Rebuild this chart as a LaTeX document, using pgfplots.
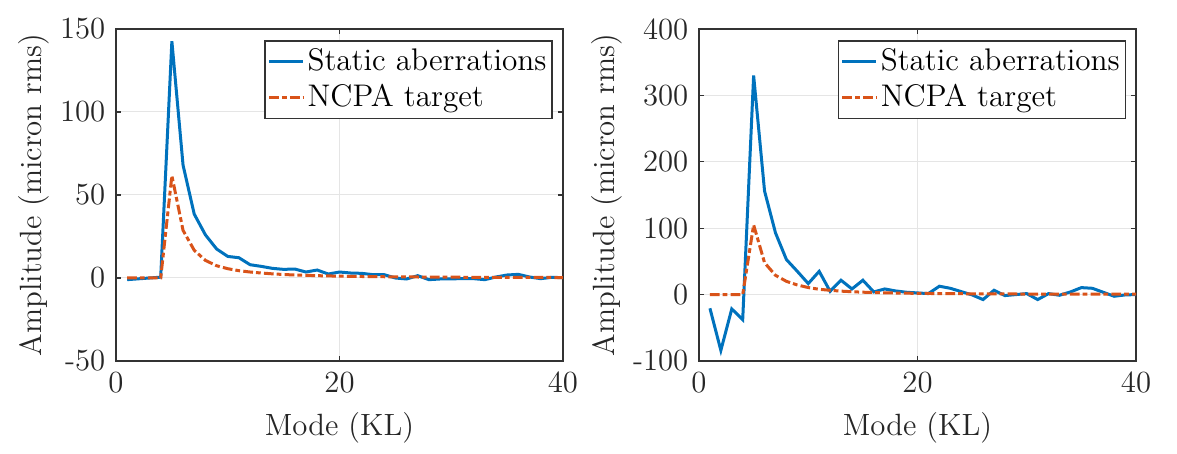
\documentclass[border=0pt]{standalone}
\usepackage{pgfplots}
\pgfplotsset{compat=1.18}
\definecolor{mblue}{rgb}{0,0.447,0.741}
\definecolor{morange}{rgb}{0.85,0.325,0.098}
\pgfplotstableread{
x s n
1 -1 0
2 -0.5 0
3 0 0
4 0.5 0
5 142.6 61.6
6 68 28.7
7 38.5 16.7
8 26 10.6
9 17.5 7.4
10 13 5.6
11 12.2 4.4
12 8 3.6
13 7 3.0
14 5.8 2.5
15 5.2 2.1
16 5.4 1.8
17 3.6 1.6
18 4.8 1.4
19 2.4 1.25
20 3.6 1.1
21 3 1.0
22 2.8 0.9
23 2 0.8
24 2 0.75
25 0 0.7
26 -0.6 0.65
27 1.4 0.6
28 -1 0.55
29 -0.6 0.5
30 -0.5 0.48
31 -0.4 0.45
32 -0.4 0.43
33 -1 0.4
34 0.6 0.38
35 1.8 0.36
36 2.2 0.34
37 0.6 0.32
38 -0.4 0.31
39 0.4 0.3
40 0.2 0.29
}\leftdata
\pgfplotstableread{
x s n
1 -20.6 0
2 -84 0
3 -21.6 0
4 -37.7 0
5 330 105
6 156 48
7 93 29
8 52.8 20
9 35 14.5
10 16.6 10.6
11 35 8
12 5 6.5
13 21.6 5.2
14 8.5 4.3
15 21.6 3.6
16 4 3.1
17 8.5 2.7
18 5.5 2.4
19 3.5 2.1
20 2.5 1.9
21 1.5 1.7
22 12.6 1.5
23 9.5 1.4
24 4.5 1.3
25 -0.5 1.2
26 -7.5 1.1
27 6.5 1.0
28 -1.5 0.95
29 0 0.9
30 1.5 0.85
31 -7.5 0.8
32 1.5 0.75
33 -1 0.7
34 4 0.68
35 10.5 0.65
36 9.5 0.62
37 3.5 0.6
38 -2.5 0.57
39 -0.5 0.55
40 0 0.52
}\rightdata
\begin{document}
\fontsize{12.3}{14}\selectfont
\begin{tikzpicture}
\pgfplotsset{
  mstyle/.style={
    scale only axis, height=132.8pt,
    xmin=0, xmax=40, xtick={0,20,40},
    grid=major, major grid style={color=black!10, line width=0.4pt},
    axis line style={color=black!80, line width=0.5pt},
    tick style={color=black!80, line width=0.5pt},
    major tick length=2pt, tick align=inside,
    xtick pos=both, ytick pos=both,
    /pgf/number format/assume math mode=true,
    ticklabel style={font=\fontsize{12.3}{14}\selectfont, color=black!85},
    label style={font=\fontsize{12.3}{14}\selectfont, color=black!85},
    xlabel={Mode (KL)}, ylabel={Amplitude (micron rms)},
    xlabel style={yshift=0.8pt},
    ylabel style={yshift=-4pt},
    legend style={at={(0.977,0.966)}, anchor=north east, draw=black!80,
      line width=0.5pt, font=\fontsize{12.5}{14}\selectfont,
      inner xsep=1pt, inner ysep=1pt, row sep=0pt,
      nodes={inner sep=1.2pt, text height=9.5pt, text depth=2.6pt}},
    legend cell align=left,
    legend image code/.code={\draw[##1] (0pt,0pt) -- (13.6pt,0pt);},
  },
  sline/.style={color=mblue, line width=1.2pt},
  nline/.style={color=morange, line width=1.2pt, dash pattern=on 3.9pt off 1.2pt on 1.9pt off 1.3pt},
}
\begin{axis}[mstyle, width=178.8pt, at={(46.4pt,37.2pt)}, anchor=south west,
  ymin=-50, ymax=150, ytick={-50,0,50,100,150}]
\addplot[sline] table[x=x,y=s] {\leftdata};
\addlegendentry{Static aberrations}
\addplot[nline] table[x=x,y=n] {\leftdata};
\addlegendentry{NCPA target}
\end{axis}
\begin{axis}[mstyle, width=174.8pt, at={(279.6pt,37.2pt)}, anchor=south west,
  ymin=-100, ymax=400, ytick={-100,0,100,200,300,400}]
\addplot[sline] table[x=x,y=s] {\rightdata};
\addlegendentry{Static aberrations}
\addplot[nline] table[x=x,y=n] {\rightdata};
\addlegendentry{NCPA target}
\end{axis}
\path[use as bounding box] (0,0) rectangle (470.8pt,181.6pt);
\end{tikzpicture}
\end{document}
